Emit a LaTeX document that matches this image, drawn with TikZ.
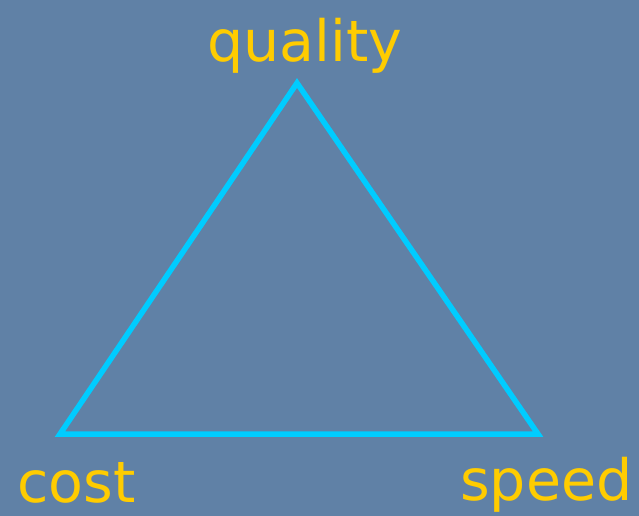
\documentclass[tikz,border=0pt]{standalone}
\usepackage{fontspec}
\setsansfont{DejaVu Sans}
\usetikzlibrary{positioning}

\definecolor{slidebg}{RGB}{96,129,166}
\definecolor{edgecyan}{RGB}{0,204,255}
\definecolor{labelgold}{RGB}{255,204,0}

\tikzset{
  corner/.style={font=\sffamily\fontsize{57}{57}\selectfont, text=labelgold, inner sep=0pt},
  side/.style={draw=edgecyan, line width=5.5pt, line join=miter}
}

\begin{document}
\begin{tikzpicture}[x=1pt, y=-1pt]
\fill[slidebg] (0,0) rectangle (639,516);
\useasboundingbox (0,0) rectangle (639,516);

\coordinate (Q) at (297,83);
\coordinate (C) at (60,434);
\coordinate (S) at (538,434);

\draw[side] (Q) -- (S) -- (C) -- cycle;

\node[corner, anchor=base] (quality) at (305,62) {quality};
\node[corner, anchor=base west] (cost) at (17,502) {cost};
\node[corner, anchor=base west] (speed) at (460,500) {speed};
\end{tikzpicture}
\end{document}
